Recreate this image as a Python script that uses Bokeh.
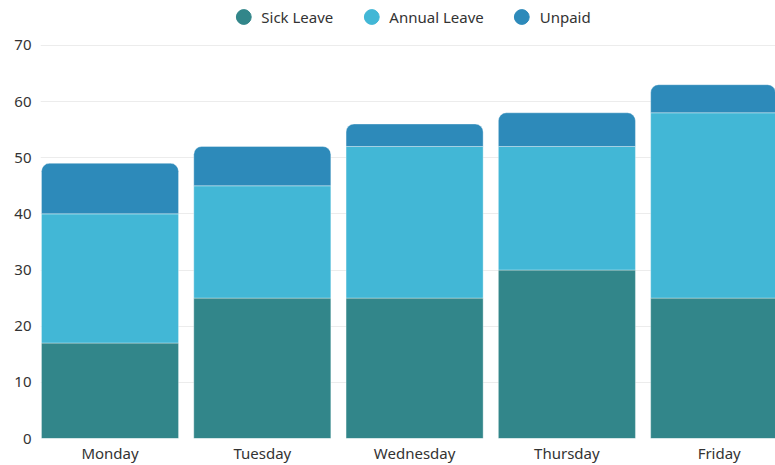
from bokeh.plotting import figure
from bokeh.models import ColumnDataSource, Range1d, FixedTicker, Legend, LegendItem
from bokeh.embed import file_html
from bokeh.resources import INLINE

days = ["Monday", "Tuesday", "Wednesday", "Thursday", "Friday"]
sick_leave = [17, 25, 25, 30, 25]
annual_leave = [23, 20, 27, 22, 33]
unpaid = [9, 7, 4, 6, 5]
y_ticks = [0, 10, 20, 30, 40, 50, 60, 70]

series_names = ["Sick Leave", "Annual Leave", "Unpaid"]
series_values = [sick_leave, annual_leave, unpaid]
series_colors = ["#32868a", "#42b7d6", "#2d8aba"]

FONT = "Noto Sans"
TEXT = "#333333"

p = figure(width=767, height=467, output_backend="svg", toolbar_location=None,
           x_range=Range1d(-0.4564, 4.3697), y_range=Range1d(0, 78.35),
           min_border_left=32, min_border_right=0, min_border_top=0, min_border_bottom=26,
           margin=(-2, 0, 0, 8))
p.outline_line_color = None
p.background_fill_color = "white"
p.border_fill_color = "white"

xs = list(range(len(days)))
bottoms = [0] * len(days)
for i, (name, vals, col) in enumerate(zip(series_names, series_values, series_colors)):
    tops = [b + v for b, v in zip(bottoms, vals)]
    src = ColumnDataSource(dict(x=xs, bottom=bottoms, top=tops))
    kw = {}
    if i == len(series_names) - 1:
        kw["border_radius"] = (8, 8, 0, 0)
    p.vbar(x="x", bottom="bottom", top="top", width=0.9, source=src,
           fill_color=col, line_color="white", line_alpha=0.35, line_width=1, **kw)
    bottoms = tops

items = []
for name, vals, col in zip(series_names, series_values, series_colors):
    r = p.scatter(x=xs, y=vals, size=0, marker="circle", fill_color=col, line_color=col)
    items.append(LegendItem(label=name, renderers=[r]))

legend = Legend(items=items, location="top_center", orientation="horizontal",
                glyph_width=37, glyph_height=37, label_standoff=0, spacing=19,
                padding=0, margin=0, background_fill_alpha=0, border_line_color=None,
                label_text_font=FONT, label_text_font_size="15px", label_text_color=TEXT)
p.add_layout(legend)

p.xaxis.ticker = FixedTicker(ticks=xs)
p.xaxis.major_label_overrides = {i: d for i, d in enumerate(days)}
p.xaxis.axis_line_color = None
p.xaxis.major_tick_line_color = None
p.xaxis.minor_tick_line_color = None
p.xaxis.major_tick_out = 0
p.xaxis.major_label_standoff = 4
p.xaxis.major_label_text_font = FONT
p.xaxis.major_label_text_font_size = "15px"
p.xaxis.major_label_text_color = TEXT

p.yaxis.ticker = FixedTicker(ticks=y_ticks)
p.yaxis.axis_line_color = None
p.yaxis.major_tick_line_color = None
p.yaxis.minor_tick_line_color = None
p.yaxis.major_tick_out = 0
p.yaxis.major_label_standoff = 9
p.yaxis.major_label_text_font = FONT
p.yaxis.major_label_text_font_size = "15px"
p.yaxis.major_label_text_color = TEXT

p.xgrid.grid_line_color = None
p.ygrid.grid_line_color = "#ececec"
p.ygrid.grid_line_width = 1
p.ygrid.ticker = FixedTicker(ticks=y_ticks)

open("out.html", "w").write(file_html(p, INLINE))
